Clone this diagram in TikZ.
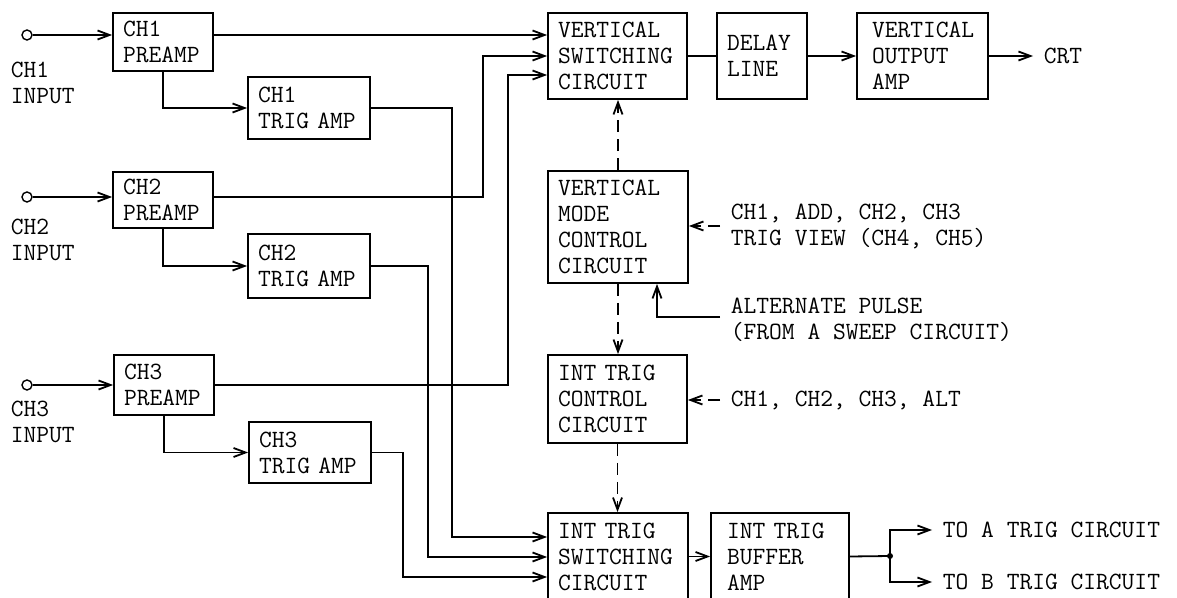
\documentclass[tikz,border=0pt]{standalone}
\usetikzlibrary{arrows.meta}
\begin{document}
\begin{tikzpicture}[x=0.5pt,y=-0.5pt,line width=0.9pt,
  every node/.style={font=\ttfamily\fontsize{12.4}{13}\selectfont},
  blk/.style={draw,align=left,inner xsep=5pt,inner ysep=0pt},
  lbl/.style={align=left,inner xsep=5pt,inner ysep=0pt,anchor=west},
  jack/.style={draw,circle,minimum size=5pt,inner sep=0pt,line width=0.7pt},
  sig/.style={-{Straight Barb[length=6pt,width=4.5pt]}},
  dsig/.style={sig,dash pattern=on 6pt off 3.5pt}]
\useasboundingbox (0,0) rectangle (1177,598);
\node[blk,text width=40pt,minimum height=29pt] (pre1) at (163,42) {CH1\\PREAMP};
\node[blk,text width=51pt,minimum height=31pt] (trig1) at (309,108) {CH1\\TRIG~AMP};
\node[blk,text width=40pt,minimum height=28pt] (pre2) at (163,200) {CH2\\PREAMP};
\node[blk,text width=51pt,minimum height=32pt] (trig2) at (309,266) {CH2\\TRIG~AMP};
\node[blk,text width=40pt,minimum height=30pt] (pre3) at (164,385) {CH3\\PREAMP};
\node[blk,text width=51pt,minimum height=30.5pt] (trig3) at (310,452.5) {CH3\\TRIG~AMP};
\node[blk,text width=59.5pt,minimum height=43pt] (vsc) at (617.5,56) {VERTICAL\\SWITCHING\\CIRCUIT};
\node[blk,text width=35pt,minimum height=43pt] (dly) at (762,56) {DELAY\\LINE};
\node[blk,text width=50.5pt,inner xsep=7.5pt,minimum height=43pt] (voa) at (922.5,56) {VERTICAL\\OUTPUT\\AMP};
\node[blk,text width=60pt,minimum height=56pt] (vmcc) at (618,227) {VERTICAL\\MODE\\CONTROL\\CIRCUIT};
\node[blk,text width=59.5pt,minimum height=44pt] (itcc) at (617.5,399) {INT~TRIG\\CONTROL\\CIRCUIT};
\node[blk,text width=60pt,minimum height=43.5pt] (itsc) at (618,556.5) {INT~TRIG\\SWITCHING\\CIRCUIT};
\node[blk,text width=53pt,inner xsep=8pt,minimum height=43.5pt] (itba) at (780,556.5) {INT~TRIG\\BUFFER\\AMP};
\node[lbl,inner xsep=0pt] (lab1) at (10,83) {CH1\\INPUT};
\node[lbl,inner xsep=0pt] (lab2) at (10,240) {CH2\\INPUT};
\node[lbl,inner xsep=0pt] (lab3) at (10,422) {CH3\\INPUT};
\node[jack] (in1) at (27,35) {};
\node[jack] (in2) at (27,197) {};
\node[jack] (in3) at (27,385) {};
\node[lbl] (crt) at (1033,56) {CRT};
\node[lbl] (modes) at (720,226) {CH1, ADD, CH2, CH3\\TRIG VIEW (CH4, CH5)};
\node[lbl] (altp) at (720,320) {ALTERNATE PULSE\\(FROM A SWEEP CIRCUIT)};
\node[lbl] (trigsel) at (720,400) {CH1, CH2, CH3, ALT};
\node[lbl] (toa) at (932,530) {TO A TRIG CIRCUIT};
\node[lbl] (tob) at (932,582) {TO B TRIG CIRCUIT};
\coordinate (jn) at (890,556);
\draw[sig] (in1) -- (in1 -| pre1.west);
\draw[sig] (in2) -- (in2 -| pre2.west);
\draw[sig] (in3) -- (in3 -| pre3.west);
\draw[sig] (pre1.east |- in1) -- (vsc.west |- in1);
\draw[sig] (pre2.east |- in2) -| (483,56) -- (vsc.west);
\draw[sig] (pre3.east) -| (508,75) -- (vsc.west |- 0,75);
\draw[sig] (pre1.south) |- (trig1.west);
\draw[sig] (pre2.south) |- (trig2.west);
\draw[sig] (pre3.south) |- (trig3.west);
\draw[sig] (trig1.east) -| (452,537) -- (itsc.west |- 0,537);
\draw[sig] (trig2.east) -| (428,557) -- (itsc.west |- 0,557);
\draw[sig] (trig3.east) -| (403,577) -- (itsc.west |- 0,577);
\draw (vsc.east) -- (dly.west);
\draw[sig] (dly.east) -- (voa.west);
\draw[sig] (voa.east) -- (voa.east -| crt.west);
\draw[dsig] (vmcc.north) -- (vmcc.north |- vsc.south);
\draw[dsig] (vmcc.south) -- (vmcc.south |- itcc.north);
\draw[dsig] (itcc.south) -- (itcc.south |- itsc.north);
\draw[dsig] (modes.west) -- (modes.west -| vmcc.east);
\draw[sig] (altp.west |- 0,317) -| ([xshift=19.5pt]vmcc.south);
\draw[dsig] (trigsel.west) -- (trigsel.west -| itcc.east);
\draw[sig] (itsc.east) -- (itba.west);
\draw (itba.east) -- (jn);
\fill (jn) circle (1.5pt);
\draw[sig] (jn) |- (toa.west);
\draw[sig] (jn) |- (tob.west);
\end{tikzpicture}
\end{document}
